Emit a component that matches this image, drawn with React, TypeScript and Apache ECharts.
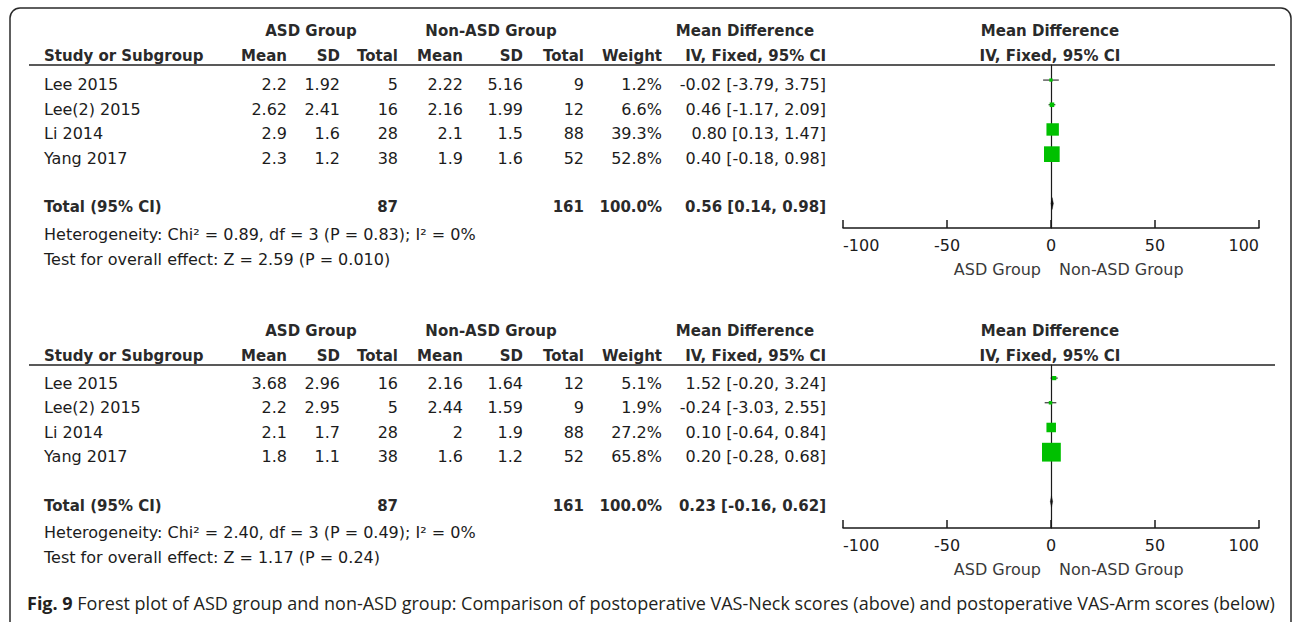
import React, { useEffect, useRef } from "react";
import * as echarts from "echarts";

// ---------- DATA ----------
const studies = ["Lee 2015", "Lee(2) 2015", "Li 2014", "Yang 2017"];

// Panel 1: postoperative VAS-Neck
const neckAsdMean = [2.2, 2.62, 2.9, 2.3];
const neckAsdSD = [1.92, 2.41, 1.6, 1.2];
const neckAsdN = [5, 16, 28, 38];
const neckNonMean = [2.22, 2.16, 2.1, 1.9];
const neckNonSD = [5.16, 1.99, 1.5, 1.6];
const neckNonN = [9, 12, 88, 52];
const neckWeight = [1.2, 6.6, 39.3, 52.8];
const neckMD = [-0.02, 0.46, 0.8, 0.4];
const neckLo = [-3.79, -1.17, 0.13, -0.18];
const neckHi = [3.75, 2.09, 1.47, 0.98];
const neckTotal = { asdN: 87, nonN: 161, weight: 100.0, md: 0.56, lo: 0.14, hi: 0.98 };
const neckHet = { chi: "0.89", df: 3, p: "0.83", i2: 0, z: "2.59", pz: "0.010" };

// Panel 2: postoperative VAS-Arm
const armAsdMean = [3.68, 2.2, 2.1, 1.8];
const armAsdSD = [2.96, 2.95, 1.7, 1.1];
const armAsdN = [16, 5, 28, 38];
const armNonMean = [2.16, 2.44, 2, 1.6];
const armNonSD = [1.64, 1.59, 1.9, 1.2];
const armNonN = [12, 9, 88, 52];
const armWeight = [5.1, 1.9, 27.2, 65.8];
const armMD = [1.52, -0.24, 0.1, 0.2];
const armLo = [-0.2, -3.03, -0.64, -0.28];
const armHi = [3.24, 2.55, 0.84, 0.68];
const armTotal = { asdN: 87, nonN: 161, weight: 100.0, md: 0.23, lo: -0.16, hi: 0.62 };
const armHet = { chi: "2.40", df: 3, p: "0.49", i2: 0, z: "1.17", pz: "0.24" };

const axisTicks = [-100, -50, 0, 50, 100];
const caption =
  "Forest plot of ASD group and non-ASD group: Comparison of postoperative VAS-Neck scores (above) and postoperative VAS-Arm scores (below)";

// ---------- STYLE ----------
const REG = '16px "DejaVu Sans"';
const BOLD = 'bold 15px "DejaVu Sans"';
const TXT = "#1c1c1c";
const HDR = "#2a2a2a";

function txt(text: string, x: number, y: number, align: string, font = REG, fill = TXT) {
  return {
    type: "text",
    x,
    y,
    silent: true,
    style: { text, font, fill, align, verticalAlign: "middle" },
  };
}

function panelTable(p: any, off: number, rowOff: number) {
  const els: any[] = [];
  // header
  els.push(txt("ASD Group", 311, 31 + off, "center", BOLD, HDR));
  els.push(txt("Non-ASD Group", 491, 31 + off, "center", BOLD, HDR));
  els.push(txt("Mean Difference", 745, 31 + off, "center", BOLD, HDR));
  els.push(txt("Mean Difference", 1050, 31 + off, "center", BOLD, HDR));
  const h2 = 56 + off;
  els.push(txt("Study or Subgroup", 44, h2, "left", BOLD, HDR));
  els.push(txt("Mean", 287, h2, "right", BOLD, HDR));
  els.push(txt("SD", 340, h2, "right", BOLD, HDR));
  els.push(txt("Total", 398, h2, "right", BOLD, HDR));
  els.push(txt("Mean", 463, h2, "right", BOLD, HDR));
  els.push(txt("SD", 523, h2, "right", BOLD, HDR));
  els.push(txt("Total", 584, h2, "right", BOLD, HDR));
  els.push(txt("Weight", 662, h2, "right", BOLD, HDR));
  els.push(txt("IV, Fixed, 95% CI", 826, h2, "right", BOLD, HDR));
  els.push(txt("IV, Fixed, 95% CI", 1050, h2, "center", BOLD, HDR));
  els.push({
    type: "line",
    silent: true,
    shape: { x1: 29, y1: 65 + off, x2: 1275, y2: 65 + off },
    style: { stroke: "#222", lineWidth: 1.5 },
  });
  // rows
  studies.forEach((s, i) => {
    const y = 84.5 + rowOff + i * 24.5;
    els.push(txt(s, 44, y, "left"));
    els.push(txt(String(p.asdMean[i]), 287, y, "right"));
    els.push(txt(String(p.asdSD[i]), 340, y, "right"));
    els.push(txt(String(p.asdN[i]), 398, y, "right"));
    els.push(txt(String(p.nonMean[i]), 463, y, "right"));
    els.push(txt(String(p.nonSD[i]), 523, y, "right"));
    els.push(txt(String(p.nonN[i]), 584, y, "right"));
    els.push(txt(p.weight[i].toFixed(1) + "%", 662, y, "right"));
    els.push(
      txt(`${p.md[i].toFixed(2)} [${p.lo[i].toFixed(2)}, ${p.hi[i].toFixed(2)}]`, 826, y, "right")
    );
  });
  const ty = 207 + rowOff;
  const t = p.total;
  els.push(txt("Total (95% CI)", 44, ty, "left", BOLD, HDR));
  els.push(txt(String(t.asdN), 398, ty, "right", BOLD, HDR));
  els.push(txt(String(t.nonN), 584, ty, "right", BOLD, HDR));
  els.push(txt(t.weight.toFixed(1) + "%", 662, ty, "right", BOLD, HDR));
  els.push(
    txt(`${t.md.toFixed(2)} [${t.lo.toFixed(2)}, ${t.hi.toFixed(2)}]`, 826, ty, "right", BOLD, HDR)
  );
  const h = p.het;
  els.push(
    txt(
      `Heterogeneity: Chi\u00B2 = ${h.chi}, df = ${h.df} (P = ${h.p}); I\u00B2 = ${h.i2}%`,
      44,
      234 + rowOff,
      "left"
    )
  );
  els.push(txt(`Test for overall effect: Z = ${h.z} (P = ${h.pz})`, 44, 259 + rowOff, "left"));
  // favours labels
  els.push(txt("ASD Group", 1041, 269 + off, "right", REG, "#3a3a3a"));
  els.push(txt("Non-ASD Group", 1059, 269 + off, "left", REG, "#3a3a3a"));
  return els;
}

const panels = [
  {
    asdMean: neckAsdMean, asdSD: neckAsdSD, asdN: neckAsdN,
    nonMean: neckNonMean, nonSD: neckNonSD, nonN: neckNonN,
    weight: neckWeight, md: neckMD, lo: neckLo, hi: neckHi,
    total: neckTotal, het: neckHet,
  },
  {
    asdMean: armAsdMean, asdSD: armAsdSD, asdN: armAsdN,
    nonMean: armNonMean, nonSD: armNonSD, nonN: armNonN,
    weight: armWeight, md: armMD, lo: armLo, hi: armHi,
    total: armTotal, het: armHet,
  },
];

function seriesData(p: any) {
  const d: any[] = p.md.map((m: number, i: number) => [m, p.lo[i], p.hi[i], p.weight[i], i, 0]);
  d.push([p.total.md, p.total.lo, p.total.hi, p.total.weight, 5, 1]);
  return d;
}

const renderItem = (params: any, api: any) => {
  const md = api.value(0);
  const lo = api.value(1);
  const hi = api.value(2);
  const w = api.value(3);
  const row = api.value(4);
  const isTotal = api.value(5);
  const c = api.coord([md, row]);
  const l = api.coord([lo, row]);
  const h = api.coord([hi, row]);
  if (isTotal) {
    return {
      type: "polygon",
      shape: {
        points: [
          [l[0] - 0.4, c[1]],
          [c[0], c[1] - 6],
          [h[0] + 0.4, c[1]],
          [c[0], c[1] + 6],
        ],
      },
      style: { fill: "#111", stroke: "#111", lineWidth: 0.3 },
    };
  }
  const s = 3 + w * 0.24;
  return {
    type: "group",
    children: [
      {
        type: "line",
        shape: { x1: l[0], y1: c[1], x2: h[0], y2: c[1] },
        style: { stroke: "#111", lineWidth: 1 },
      },
      {
        type: "rect",
        shape: { x: c[0] - s / 2, y: c[1] - s / 2, width: s, height: s },
        style: { fill: "#00c000" },
      },
    ],
  };
};

function xAxisCfg(gridIndex: number) {
  return {
    type: "value",
    gridIndex,
    min: axisTicks[0],
    max: axisTicks[axisTicks.length - 1],
    interval: axisTicks[1] - axisTicks[0],
    axisLine: { onZero: false, lineStyle: { color: "#1a1a1a", width: 1.5 } },
    axisTick: { inside: true, length: 8, lineStyle: { color: "#1a1a1a", width: 1.5 } },
    axisLabel: {
      color: TXT,
      fontFamily: "DejaVu Sans",
      fontSize: 16,
      margin: 9,
      alignMinLabel: "left",
      alignMaxLabel: "right",
      showMinLabel: true,
      showMaxLabel: true,
    },
    splitLine: { show: false },
  };
}

function yAxisCfg(gridIndex: number, min: number, max: number) {
  return {
    type: "value",
    gridIndex,
    min,
    max,
    inverse: true,
    axisLine: { show: true, onZero: true, lineStyle: { color: "#1a1a1a", width: 1.2 } },
    axisTick: { show: false },
    axisLabel: { show: false },
    splitLine: { show: false },
  };
}

export default function App() {
  const ref = useRef<HTMLDivElement>(null);
  useEffect(() => {
    if (!ref.current) return;
    const chart = echarts.init(ref.current, undefined, { renderer: "svg" });
    const graphics: any[] = [
      {
        type: "rect",
        silent: true,
        shape: { x: 10, y: 8, width: 1281, height: 626, r: 10 },
        style: { fill: "none", stroke: "#2a2a2a", lineWidth: 1.5 },
      },
      ...panelTable(panels[0], 0, 0),
      ...panelTable(panels[1], 300, 298.5),
      {
        type: "text",
        x: 27,
        y: 603,
        silent: true,
        style: {
          text: "{b|Fig. 9} " + caption,
          font: '18px "Open Sans"',
          fill: "#231f20",
          align: "left",
          verticalAlign: "middle",
          rich: {
            b: { fontWeight: "bold", fontFamily: "Open Sans", fontSize: 18, fill: "#231f20" },
          },
        },
      },
    ];
    chart.setOption({
      animation: false,
      backgroundColor: "#ffffff",
      grid: [
        { left: 843, width: 416, top: 65, height: 163 },
        { left: 843, width: 416, top: 365, height: 163 },
      ],
      xAxis: [xAxisCfg(0), xAxisCfg(1)],
      yAxis: [yAxisCfg(0, -0.61, 5.99), yAxisCfg(1, -0.53, 6.07)],
      series: [
        {
          type: "custom",
          xAxisIndex: 0,
          yAxisIndex: 0,
          renderItem,
          data: seriesData(panels[0]),
          clip: false,
        },
        {
          type: "custom",
          xAxisIndex: 1,
          yAxisIndex: 1,
          renderItem,
          data: seriesData(panels[1]),
          clip: false,
        },
      ],
      graphic: graphics,
    });
    return () => chart.dispose();
  }, []);
  return (
    <div
      ref={ref}
      style={{ position: "absolute", left: 0, top: 0, width: 1292, height: 622, background: "#fff" }}
    />
  );
}
